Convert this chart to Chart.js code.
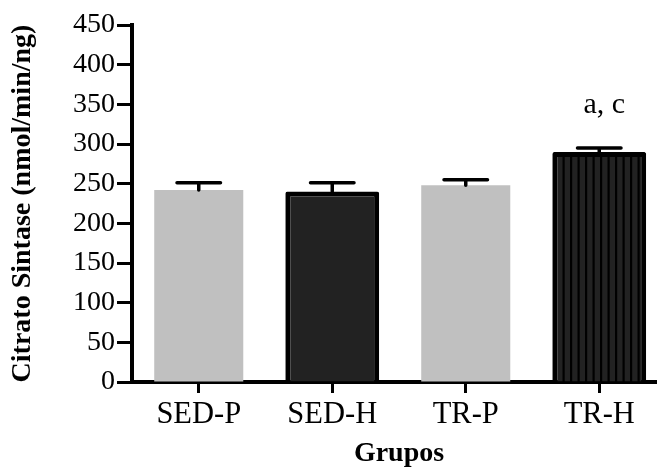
<!DOCTYPE html>
<html>
<head>
<meta charset="utf-8">
<script src="https://cdn.jsdelivr.net/npm/chart.js@4"></script>
<style>
  html, body { margin: 0; padding: 0; overflow: hidden; background: #fff; }
  canvas { display: block; }
</style>
</head>
<body>
<canvas id="citratoChart" width="666" height="471"></canvas>
<script>
const groups = ["SED-P", "SED-H", "TR-P", "TR-H"];
const meanValues = [242, 240, 248, 290];
const semValues = [9, 11, 7, 5];
const significance = ["", "", "", "a, c"];
const darkGroups = [false, true, false, true];
const stripedGroups = [false, false, false, true];

const serif = "'Liberation Serif', 'Times New Roman', serif";

function makeStripes() {
  const tile = document.createElement("canvas");
  tile.width = 15;
  tile.height = 10;
  const c = tile.getContext("2d");
  c.fillStyle = "#222222";
  c.fillRect(0, 0, 15, 10);
  c.fillStyle = "#000000";
  c.fillRect(0, 0, 2.2, 10);
  c.fillRect(7.5, 0, 2.2, 10);
  return document.getElementById("citratoChart").getContext("2d").createPattern(tile, "repeat");
}

const stripes = makeStripes();

// SEM bars (upper half only) and the significance letters
const errorBarPlugin = {
  id: "errorBarPlugin",
  afterDatasetsDraw(chart) {
    const { ctx } = chart;
    const x = chart.scales.x;
    const y = chart.scales.y;
    ctx.save();
    ctx.strokeStyle = "#000";
    ctx.lineCap = "round";
    ctx.lineWidth = 3.5;
    meanValues.forEach((mean, i) => {
      const px = x.getPixelForValue(i);
      const yTop = y.getPixelForValue(mean + semValues[i]);
      const yMean = y.getPixelForValue(mean);
      ctx.beginPath();
      ctx.moveTo(px, yMean);
      ctx.lineTo(px, yTop);
      ctx.moveTo(px - 21.75, yTop);
      ctx.lineTo(px + 21.75, yTop);
      ctx.stroke();
      if (significance[i]) {
        ctx.fillStyle = "#000";
        ctx.font = "30px " + serif;
        ctx.textAlign = "center";
        ctx.textBaseline = "alphabetic";
        ctx.fillText(significance[i], px + 5, yTop - 35);
      }
    });
    ctx.restore();
  },
};

new Chart(document.getElementById("citratoChart"), {
  type: "bar",
  data: {
    labels: groups,
    datasets: [
      {
        data: meanValues.map((v, i) => (darkGroups[i] ? null : v)),
        backgroundColor: "#c0c0c0",
        borderWidth: 0,
        barPercentage: 0.667,
        categoryPercentage: 1,
        grouped: false,
      },
      {
        data: meanValues.map((v, i) => (darkGroups[i] ? v : null)),
        backgroundColor: (ctx) => (stripedGroups[ctx.dataIndex] ? stripes : "#222222"),
        borderColor: "#000",
        borderWidth: 5,
        borderRadius: 2,
        borderSkipped: "start",
        barPercentage: 0.703,
        categoryPercentage: 1,
        grouped: false,
      },
    ],
  },
  options: {
    responsive: false,
    animation: false,
    layout: { padding: { top: 25, right: 0, bottom: 0, left: 0 } },
    plugins: { legend: { display: false }, tooltip: { enabled: false } },
    scales: {
      x: {
        offset: true,
        afterFit(scale) { scale.height = 89; },
        border: { display: true, color: "#000", width: 4 },
        grid: { offset: false, drawOnChartArea: false, drawTicks: true, tickLength: 11, tickWidth: 3, tickColor: "#000" },
        ticks: { color: "#000", padding: 7, font: { family: serif, size: 30.5, lineHeight: 1 } },
        title: {
          display: true,
          text: "Grupos",
          color: "#000",
          padding: { top: 0, bottom: 3 },
          font: { family: serif, size: 28, weight: "bold", lineHeight: 1 },
        },
      },
      y: {
        min: 0,
        max: 450,
        afterFit(scale) { scale.width = 132; },
        border: { display: true, color: "#000", width: 4 },
        grid: { drawOnChartArea: false, drawTicks: true, tickLength: 15, tickWidth: 3, tickColor: "#000" },
        ticks: { stepSize: 50, color: "#000", padding: 2, font: { family: serif, size: 28, lineHeight: 1 } },
        title: {
          display: true,
          text: "Citrato Sintase (nmol/min/ng)",
          color: "#000",
          padding: { top: 9, bottom: 0 },
          font: { family: serif, size: 28, weight: "bold", lineHeight: 1 },
        },
      },
    },
  },
  plugins: [errorBarPlugin],
});
</script>
</body>
</html>
